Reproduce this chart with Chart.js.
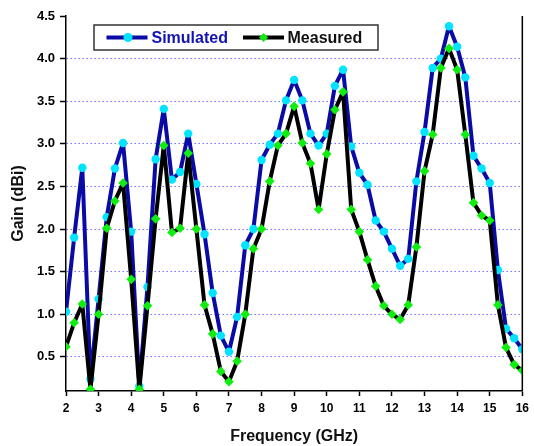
<!DOCTYPE html>
<html>
<head>
<meta charset="utf-8">
<title>Gain vs Frequency</title>
<script src="https://cdn.jsdelivr.net/npm/chart.js@4.4.1/dist/chart.umd.min.js"></script>
<style>
  html, body { margin: 0; padding: 0; background: #fff; }
  canvas { display: block; }
</style>
</head>
<body>
<canvas id="gain" width="534" height="446"></canvas>
<script>
// frequency sweep, 2 - 16 GHz in 0.25 GHz steps
const freq = [
  2.0, 2.25, 2.5, 2.75, 3.0, 3.25, 3.5, 3.75, 4.0, 4.25, 4.5, 4.75,
  5.0, 5.25, 5.5, 5.75, 6.0, 6.25, 6.5, 6.75, 7.0, 7.25, 7.5, 7.75,
  8.0, 8.25, 8.5, 8.75, 9.0, 9.25, 9.5, 9.75, 10.0, 10.25, 10.5, 10.75,
  11.0, 11.25, 11.5, 11.75, 12.0, 12.25, 12.5, 12.75, 13.0, 13.25, 13.5, 13.75,
  14.0, 14.25, 14.5, 14.75, 15.0, 15.25, 15.5, 15.75, 16.0
];

const simulated = [
  1.03, 1.90, 2.72, 0.24, 1.18, 2.14, 2.71, 3.01, 1.97, 0.16, 1.32, 2.82,
  3.41, 2.58, 2.67, 3.12, 2.53, 1.94, 1.25, 0.75, 0.56, 0.97, 1.81, 2.00,
  2.81, 2.99, 3.12, 3.51, 3.75, 3.51, 3.12, 2.98, 3.12, 3.68, 3.87, 2.97,
  2.66, 2.52, 2.10, 1.97, 1.77, 1.57, 1.65, 2.56, 3.14, 3.89, 4.00, 4.38,
  4.14, 3.78, 2.86, 2.71, 2.54, 1.52, 0.83, 0.72, 0.59
];

const measured = [
  0.62, 0.90, 1.12, 0.12, 1.00, 2.01, 2.33, 2.54, 1.41, 0.12, 1.10, 2.12,
  2.98, 1.96, 2.01, 2.89, 2.00, 1.11, 0.77, 0.33, 0.21, 0.45, 1.00, 1.77,
  2.00, 2.56, 2.98, 3.12, 3.44, 3.01, 2.77, 2.23, 2.88, 3.40, 3.61, 2.23,
  1.97, 1.64, 1.33, 1.10, 1.00, 0.94, 1.11, 1.79, 2.68, 3.11, 3.89, 4.12,
  3.87, 3.11, 2.31, 2.16, 2.10, 1.11, 0.61, 0.41, 0.34
];

const gainTicks = [0.5, 1.0, 1.5, 2.0, 2.5, 3.0, 3.5, 4.0, 4.5];
const freqTicks = [2, 3, 4, 5, 6, 7, 8, 9, 10, 11, 12, 13, 14, 15, 16];

const FONT = "'Liberation Sans', Arial, sans-serif";
const SIM_LINE = '#0a0aa6';
const SIM_DOT = '#00e4ff';
const MEAS_LINE = '#000000';
const MEAS_DOT = '#10ee10';

const toPoints = (ys) => freq.map((f, i) => ({ x: f, y: ys[i] }));

// boxed legend with line + marker samples, sitting inside the plot
const legendBox = {
  id: 'legendBox',
  afterDraw(chart) {
    const { ctx, chartArea } = chart;
    const x0 = chartArea.left + 28;
    const y0 = chartArea.top + 9;
    const w = 284, h = 25;
    const cy = y0 + h / 2;

    ctx.save();
    ctx.fillStyle = '#fff';
    ctx.fillRect(x0, y0, w, h);
    ctx.strokeStyle = '#333';
    ctx.lineWidth = 1.5;
    ctx.strokeRect(x0, y0, w, h);

    const sample = (sx, line, dot, diamond) => {
      ctx.strokeStyle = line;
      ctx.lineWidth = 4;
      ctx.beginPath();
      ctx.moveTo(sx, cy);
      ctx.lineTo(sx + 41, cy);
      ctx.stroke();
      ctx.fillStyle = dot;
      ctx.beginPath();
      if (diamond) {
        const cx = sx + 20.5, r = 4.5;
        ctx.moveTo(cx, cy - r);
        ctx.lineTo(cx + r, cy);
        ctx.lineTo(cx, cy + r);
        ctx.lineTo(cx - r, cy);
        ctx.closePath();
      } else {
        ctx.arc(sx + 21.5, cy, 4.5, 0, Math.PI * 2);
      }
      ctx.fill();
    };

    ctx.font = `bold 16px ${FONT}`;
    ctx.textBaseline = 'middle';
    ctx.textAlign = 'left';

    sample(x0 + 12.5, SIM_LINE, SIM_DOT, false);
    ctx.fillStyle = '#1212b4';
    ctx.fillText('Simulated', x0 + 57.5, cy + 1);

    sample(x0 + 149, MEAS_LINE, MEAS_DOT, true);
    ctx.fillStyle = '#111';
    ctx.fillText('Measured', x0 + 193.5, cy + 1);
    ctx.restore();
  }
};

// right-hand frame line
const rightFrame = {
  id: 'rightFrame',
  afterDatasetsDraw(chart) {
    const { ctx, chartArea } = chart;
    ctx.save();
    ctx.strokeStyle = '#000';
    ctx.lineWidth = 1.5;
    ctx.beginPath();
    ctx.moveTo(chartArea.right, chartArea.top);
    ctx.lineTo(chartArea.right, chartArea.bottom);
    ctx.stroke();
    ctx.restore();
  }
};

new Chart(document.getElementById('gain'), {
  type: 'line',
  data: {
    datasets: [
      {
        label: 'Simulated',
        data: toPoints(simulated),
        borderColor: SIM_LINE,
        backgroundColor: SIM_DOT,
        borderWidth: 4,
        borderJoinStyle: 'round',
        pointStyle: 'circle',
        pointRadius: 4.2,
        pointBorderWidth: 0,
        pointBackgroundColor: SIM_DOT,
        tension: 0,
        order: 1
      },
      {
        label: 'Measured',
        data: toPoints(measured),
        borderColor: MEAS_LINE,
        backgroundColor: MEAS_DOT,
        borderWidth: 4,
        borderJoinStyle: 'round',
        pointStyle: 'rectRot',
        pointRadius: 4.8,
        pointBorderWidth: 0,
        pointBackgroundColor: MEAS_DOT,
        tension: 0,
        order: 0
      }
    ]
  },
  options: {
    responsive: false,
    animation: false,
    layout: { padding: { top: 16, right: 8, left: 0, bottom: 0 } },
    plugins: {
      legend: { display: false },
      tooltip: { enabled: false }
    },
    scales: {
      x: {
        type: 'linear',
        min: 2,
        max: 16,
        afterBuildTicks: (axis) => { axis.ticks = freqTicks.map(v => ({ value: v })); },
        afterFit: (axis) => { axis.height = 55; },
        ticks: {
          color: '#000',
          font: { family: FONT, size: 12, weight: 'bold' },
          padding: 5,
          maxRotation: 0
        },
        grid: {
          drawOnChartArea: false,
          drawTicks: true,
          tickLength: 5,
          tickColor: '#000',
          tickWidth: 1.5
        },
        border: { display: true, color: '#000', width: 1.5 },
        title: {
          display: true,
          text: 'Frequency (GHz)',
          color: '#111',
          font: { family: FONT, size: 16, weight: 'bold' },
          padding: { top: 4, bottom: 0 }
        }
      },
      y: {
        type: 'linear',
        min: 0.1,
        max: 4.5,
        afterBuildTicks: (axis) => { axis.ticks = gainTicks.map(v => ({ value: v })); },
        afterFit: (axis) => { axis.width = 66; },
        ticks: {
          color: '#000',
          font: { family: FONT, size: 13, weight: 'bold' },
          padding: 5,
          callback: (v) => Number(v).toFixed(1)
        },
        grid: {
          color: (c) => (c.tick && c.tick.value === 4.5) ? 'rgba(0,0,0,0)' : '#7373ff',
          lineWidth: 1,
          drawTicks: true,
          tickLength: 6,
          tickColor: '#000',
          tickWidth: 1.5
        },
        border: { display: true, color: '#000', width: 1.5, dash: [1.5, 2.5] },
        title: {
          display: true,
          text: 'Gain (dBi)',
          color: '#111',
          font: { family: FONT, size: 16, weight: 'bold' },
          padding: { top: 9, bottom: 4 }
        }
      }
    }
  },
  plugins: [rightFrame, legendBox]
});
</script>
</body>
</html>
